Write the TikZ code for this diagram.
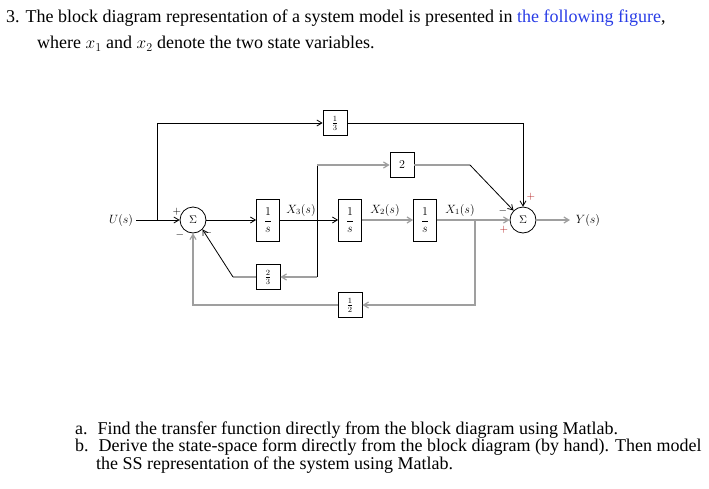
\documentclass[tikz,border=0pt]{standalone}
\usepackage{amsmath}
\usepackage{fontspec}
\setmainfont{Liberation Serif}
\usetikzlibrary{arrows.meta}
\definecolor{lnk}{RGB}{40,60,230}
\definecolor{sg}{RGB}{180,30,30}
\begin{document}
\begin{tikzpicture}[x=1pt,y=-1pt,
  blk/.style={draw,thick,fill=white,inner sep=1.5pt,font=\fontsize{12}{13}\selectfont},
  tall/.style={blk,minimum width=23pt,minimum height=42pt},
  sq/.style={blk,minimum width=24pt,minimum height=25pt},
  sm/.style={draw,thick,circle,minimum size=26pt,inner sep=0pt,font=\fontsize{11}{12}\selectfont},
  bl/.style={thick,black},
  gr/.style={very thick,gray!75},
  ar/.style={-{Straight Barb[length=5pt,width=6pt]}},
  lab/.style={font=\fontsize{12}{13}\selectfont},
  sgn/.style={font=\fontsize{11}{12}\selectfont,inner sep=0pt},
  txt/.style={font=\fontsize{18}{20}\selectfont,anchor=west,inner sep=0pt}]
\useasboundingbox (0,0) rectangle (709,488);
\node[txt] at (6,18) {3. The block diagram representation of a system model is presented in \textcolor{lnk}{the following figure},};
\node[txt] at (37,44) {where $x_1$ and $x_2$ denote the two state variables.};
\node[txt] at (75,430) {a.\hspace{10pt}Find the transfer function directly from the block diagram using Matlab.};
\node[txt] at (75,447) {b.\hspace{10pt}Derive the state-space form directly from the block diagram (by hand). Then model};
\node[txt] at (96,465) {the SS representation of the system using Matlab.};

\node[lab] (U) at (121,220) {$U(s)$};
\node[sm] (s1) at (193,220) {$\Sigma$};
\node[tall] (b1) at (268,220) {$\dfrac{1}{s}$};
\node[tall] (b2) at (350,220) {$\dfrac{1}{s}$};
\node[tall] (b3) at (425,220) {$\dfrac{1}{s}$};
\node[sm] (s2) at (523,220) {$\Sigma$};
\node[lab] (Y) at (588,220) {$Y(s)$};
\node[sq] (k3) at (335,123) {$\frac{1}{3}$};
\node[sq] (k2) at (402,165) {$2$};
\node[sq] (k23) at (268,277) {$\frac{2}{3}$};
\node[sq] (k12) at (350,305) {$\frac{1}{2}$};
\coordinate (p1) at (157,220);
\coordinate (p2) at (317,220);
\coordinate (p3) at (475,220);
\node[lab] at (301,210) {$X_3(s)$};
\node[lab] at (385,210) {$X_2(s)$};
\node[lab] at (460,210) {$X_1(s)$};

\draw[bl,ar] (U) -- (s1);
\draw[bl,ar] (p1) |- (k3);
\draw[bl,ar] (k3) -| (s2);
\draw[bl,ar] (s1) -- (b1);
\draw[bl,ar] (b1) -- (b2);
\draw[bl] (p2 |- k2) -- (p2 |- k23);
\draw[gr,ar] (p2 |- k2) -- (k2);
\draw[gr,ar] (p2 |- k23) -- (k23);
\draw[gr] (k23.west) -- (233,277);
\draw[bl,ar] (233,277) -- (s1.-45);
\draw[gr,ar] (b2) -- (b3);
\draw[gr] (k2) -- (470,165);
\draw[bl,ar] (470,165) -- (s2.135);
\draw[gr,ar] (b3) -- (s2);
\draw[gr,ar] (p3) |- (k12);
\draw[gr,ar] (k12) -| (s1);
\draw[gr,ar] (s2) -- (570,220);

\node[sgn] at (177,212) {$+$};
\node[sgn] at (180,235) {$-$};
\node[sgn] at (208,233) {$-$};
\node[sgn,text=sg] at (531,197) {$+$};
\node[sgn] at (503,211) {$-$};
\node[sgn,text=sg] at (504,230) {$+$};
\end{tikzpicture}
\end{document}
